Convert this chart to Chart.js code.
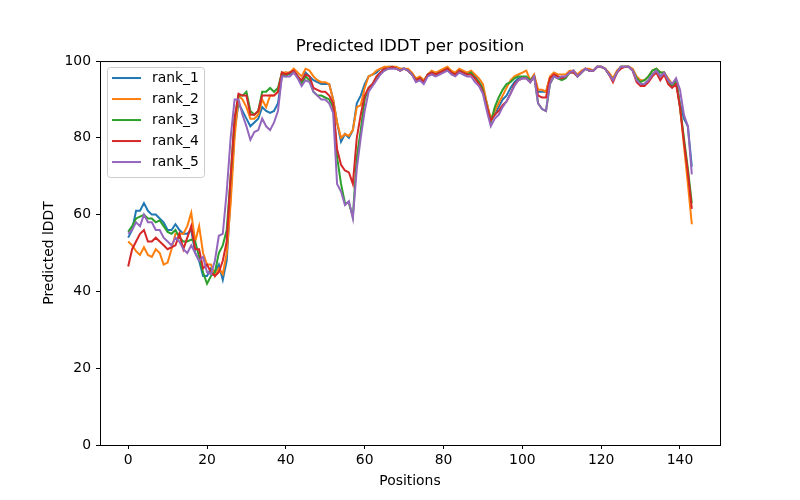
<!DOCTYPE html>
<html>
<head>
<meta charset="utf-8">
<script src="https://cdn.jsdelivr.net/npm/chart.js@4/dist/chart.umd.min.js"></script>
<style>
  body { margin: 0; background: #fff; }
  #wrap { width: 800px; height: 500px; }
</style>
</head>
<body>
<div id="wrap"><canvas id="plddt_chart" width="800" height="500"></canvas></div>
<script>
// residue positions 0..143
const positions = Array.from({ length: 144 }, (_, i) => i);
const xTicks = [0, 20, 40, 60, 80, 100, 120, 140];
const yTicks = [0, 20, 40, 60, 80, 100];

const rank1 = [
  54, 56, 61, 61, 63, 61, 60, 60, 59, 58, 56, 56, 57.5, 56, 55, 55, 56, 50, 48, 44,
  44, 46, 45, 47, 43, 48, 65, 82, 89, 87, 85, 83, 84, 85, 88, 87, 86.5, 87, 89, 96,
  97, 96.5, 97.5, 96, 94.5, 97, 96, 95, 94.5, 94, 94, 94, 90, 84, 79, 81, 80, 82, 89, 91,
  94, 96, 96.5, 97, 98, 98, 98.5, 98.5, 98, 98, 98, 97.5, 96.5, 95, 95.5, 94.5, 96.5, 97, 96.5, 97,
  97.5, 98, 97, 96.5, 97.5, 97, 96.5, 97, 96, 94.5, 93, 89, 84.5, 86, 88, 90, 91, 93, 94.5, 95.5,
  95.5, 95.5, 94.5, 96, 92, 92, 92, 95.5, 96.5, 96, 95.5, 96, 97, 97.5, 96, 97, 98, 97.5, 97.5, 98.5,
  98.5, 98, 96.5, 95, 97, 98.5, 98.5, 98.5, 97.5, 95, 94, 94, 95, 96.5, 97.5, 96, 97, 95, 93.5, 95,
  89, 85, 83, 72.5
];
const rank2 = [
  53, 52, 50.5, 49.5, 51.5, 49.5, 49, 51, 50, 47, 47.5, 51, 55, 55, 55, 57, 60.5, 53, 57, 50,
  47, 47, 44, 46, 44.5, 50, 63, 80, 91, 90, 88, 85, 85, 86, 90, 88, 91, 91, 92, 97,
  97, 97, 98, 97, 96, 98, 97.5, 96, 95, 94.5, 94.5, 94, 90, 84, 80, 81, 80.5, 82, 88, 88.5,
  93, 96, 96.5, 97.5, 98, 98.5, 98.5, 98.5, 98.5, 98, 98, 98, 97, 95.5, 96, 95, 96.5, 97.5, 97, 97.5,
  98, 98.5, 97.5, 97, 98, 97.5, 97, 97.5, 96.5, 95.5, 94, 89, 85, 87, 89, 91, 93, 95, 96, 96.5,
  97, 97.5, 95, 96.5, 92.5, 92.5, 92, 96, 97, 96.5, 96.5, 96.5, 97.5, 97.5, 96.5, 97.5, 98, 98, 97.5, 98.5,
  98.5, 98, 97, 95.5, 97.5, 98.5, 98.5, 98.5, 98, 96, 95, 95, 96, 97.5, 98, 97, 97, 95.5, 94, 95,
  88, 78, 68, 57.5
];
const rank3 = [
  55.5, 57, 59, 59.5, 60, 59, 59, 58, 58.5, 57, 55.5, 55, 56, 54, 53, 53, 53.5, 53, 49, 45,
  42, 44, 45, 50, 52, 56, 70, 85, 91, 91, 92, 87, 86, 87, 92, 92, 93, 92, 93, 97,
  96, 97, 97, 96, 94, 96, 95, 92, 91, 91, 90.5, 90, 88, 75, 68, 63, 63, 59.5, 75, 82,
  90, 93, 94, 95.5, 97, 97.5, 98, 98.5, 98, 97.5, 98, 97.5, 96.5, 95, 95.5, 94.5, 96.5, 97, 96.5, 97,
  97.5, 98, 97, 96.5, 97.5, 97, 96.5, 97, 95.5, 94.5, 92.5, 88, 84, 88, 90.5, 92.5, 94, 94.5, 95.5, 96,
  96, 96, 95, 96, 89, 87.5, 87, 94, 96, 95.5, 95, 95.5, 97, 97, 96, 97, 98, 97.5, 97.5, 98.5,
  98.5, 98, 96.5, 95, 97, 98.5, 98.5, 98.5, 97.5, 95.5, 94.5, 95, 96, 97.5, 98, 97, 97, 95, 93.5, 95,
  88, 80, 72, 63
];
const rank4 = [
  46.5, 51, 53, 55, 56, 53, 53, 54, 53, 52, 51, 51.5, 52, 55, 51, 54, 57, 51, 51, 46,
  47, 45, 44, 45, 48, 53, 70, 85, 91.5, 91, 91, 86, 86, 87, 91, 91, 91, 91, 92, 97,
  96.5, 97, 97.5, 96, 95, 96.5, 96, 93, 92.5, 92, 92, 91, 89, 77, 73, 71.5, 71, 68, 80, 86,
  91, 93, 94, 96, 97, 98, 98, 98.5, 98, 97.5, 98, 97.5, 96.5, 95, 95.5, 94.5, 96.5, 97, 96.5, 97,
  97.5, 98, 97, 96.5, 97.5, 97, 96.5, 96.5, 95.5, 94, 92, 88, 84.5, 86, 87, 88.5, 89.5, 91.5, 94, 95,
  95.5, 95.5, 94.5, 96, 91, 90.5, 90.5, 95.5, 96.5, 96, 95.5, 96, 97, 97, 96, 97, 98, 97.5, 97.5, 98.5,
  98.5, 98, 96.5, 94.5, 97, 98, 98.5, 98.5, 97.5, 94.5, 93.5, 93.5, 94.5, 96, 97, 95, 96.5, 94, 93, 94,
  88, 79, 71, 61.5
];
const rank5 = [
  55, 56, 58, 57, 60, 58, 58, 56, 56, 54, 53, 52, 54, 53, 51, 50, 52, 50, 48, 49,
  45, 44.5, 48, 54.5, 55, 66, 80, 90, 90, 86, 83, 79.5, 81.5, 82, 85, 83, 82, 84, 87, 96,
  96, 96, 97, 95.5, 93.5, 95, 94.5, 92, 91, 90, 90, 89, 86.5, 68, 66, 62.5, 63.5, 59, 72, 80,
  87, 92, 93.5, 95, 96.5, 97.5, 98, 98, 98, 97.5, 98, 97.5, 96.5, 94.5, 95, 94, 96, 96.5, 96, 96.5,
  97, 97.5, 96.5, 96, 97, 96.5, 96, 96, 94.5, 93.5, 91.5, 87, 83, 85, 86, 88, 89.5, 91.5, 93.5, 95,
  95.5, 95.5, 94.5, 96, 89, 87.5, 87, 94, 96, 95.5, 96, 96, 97, 97.5, 96, 97, 98, 97.5, 97.5, 98.5,
  98.5, 98, 96.5, 95, 97, 98.5, 98.5, 98.5, 97.5, 95, 94, 94, 95, 96.5, 97.5, 96, 97, 95, 94, 95.5,
  92.5, 86, 83, 70.5
];

const seriesNames = ["rank_1", "rank_2", "rank_3", "rank_4", "rank_5"];
const seriesValues = [rank1, rank2, rank3, rank4, rank5];
const colors = ["#1f77b4", "#ff7f0e", "#2ca02c", "#d62728", "#9467bd"];

const FONT = "'DejaVu Sans', sans-serif";
const LABEL_SIZE = 13.9;

// black frame round the plot area, like matplotlib spines
const framePlugin = {
  id: "frame",
  afterDatasetsDraw(chart) {
    const { ctx, chartArea: a } = chart;
    ctx.save();
    ctx.strokeStyle = "#000";
    ctx.lineWidth = 1;
    ctx.strokeRect(a.left + 0.5, a.top + 0.5, a.right - a.left, a.bottom - a.top);
    ctx.restore();
  }
};

// legend box in the upper-left corner of the plot
const legendPlugin = {
  id: "boxLegend",
  afterDraw(chart) {
    const { ctx, chartArea: a } = chart;
    const x0 = a.left + 7, y0 = a.top + 6, w = 97, h = 110;
    ctx.save();
    ctx.fillStyle = "rgba(255,255,255,0.8)";
    ctx.strokeStyle = "#cccccc";
    ctx.lineWidth = 1;
    ctx.beginPath();
    ctx.roundRect(x0 + 0.5, y0 + 0.5, w, h, 3);
    ctx.fill();
    ctx.stroke();
    ctx.font = LABEL_SIZE + "px " + FONT;
    ctx.textBaseline = "middle";
    chart.data.datasets.forEach((ds, i) => {
      const y = y0 + 11 + i * 21;
      ctx.strokeStyle = ds.borderColor;
      ctx.lineWidth = 2;
      ctx.beginPath();
      ctx.moveTo(x0 + 5, y);
      ctx.lineTo(x0 + 34, y);
      ctx.stroke();
      ctx.fillStyle = "#000";
      ctx.fillText(ds.label, x0 + 45, y);
    });
    ctx.restore();
  }
};

let ctx = document.getElementById("plddt_chart").getContext("2d");

let data = {
  labels: positions,
  datasets: seriesNames.map((name, i) => ({
    label: name,
    data: seriesValues[i],
    borderColor: colors[i],
    backgroundColor: colors[i],
    borderWidth: 2,
    pointRadius: 0,
    tension: 0,
    fill: false,
    order: seriesNames.length - 1 - i
  }))
};

const config = {
  type: "line",
  data: data,
  plugins: [framePlugin, legendPlugin],
  options: {
    responsive: false,
    animation: false,
    layout: { padding: { left: 0, right: 80, top: 0, bottom: 0 } },
    plugins: {
      legend: { display: false },
      tooltip: { enabled: false },
      title: {
        display: true,
        text: "Predicted lDDT per position",
        color: "#000",
        fullSize: false,
        font: { family: FONT, size: 16.7, weight: "normal" },
        padding: { top: 37, bottom: 4 }
      }
    },
    scales: {
      x: {
        type: "linear",
        min: -7.15,
        max: 150.15,
        afterBuildTicks: (scale) => { scale.ticks = xTicks.map(v => ({ value: v })); },
        afterFit: (scale) => { scale.height = 55; },
        grid: { display: true, drawOnChartArea: false, drawTicks: true, tickLength: 4, tickColor: "#000" },
        border: { display: false },
        ticks: { color: "#000", font: { family: FONT, size: LABEL_SIZE }, padding: 3, maxRotation: 0 },
        title: {
          display: true,
          text: "Positions",
          color: "#000",
          font: { family: FONT, size: LABEL_SIZE },
          padding: { top: 0, bottom: 10 }
        }
      },
      y: {
        min: 0,
        max: 100,
        afterBuildTicks: (scale) => { scale.ticks = yTicks.map(v => ({ value: v })); },
        afterFit: (scale) => { scale.width = 100; },
        grid: { display: true, drawOnChartArea: false, drawTicks: true, tickLength: 4, tickColor: "#000" },
        border: { display: false },
        ticks: { color: "#000", font: { family: FONT, size: LABEL_SIZE }, padding: 5 },
        title: {
          display: true,
          text: "Predicted lDDT",
          color: "#000",
          font: { family: FONT, size: LABEL_SIZE },
          padding: { top: 41, bottom: 0 }
        }
      }
    }
  }
};

let myChart = new Chart(ctx, config);
</script>
</body>
</html>
